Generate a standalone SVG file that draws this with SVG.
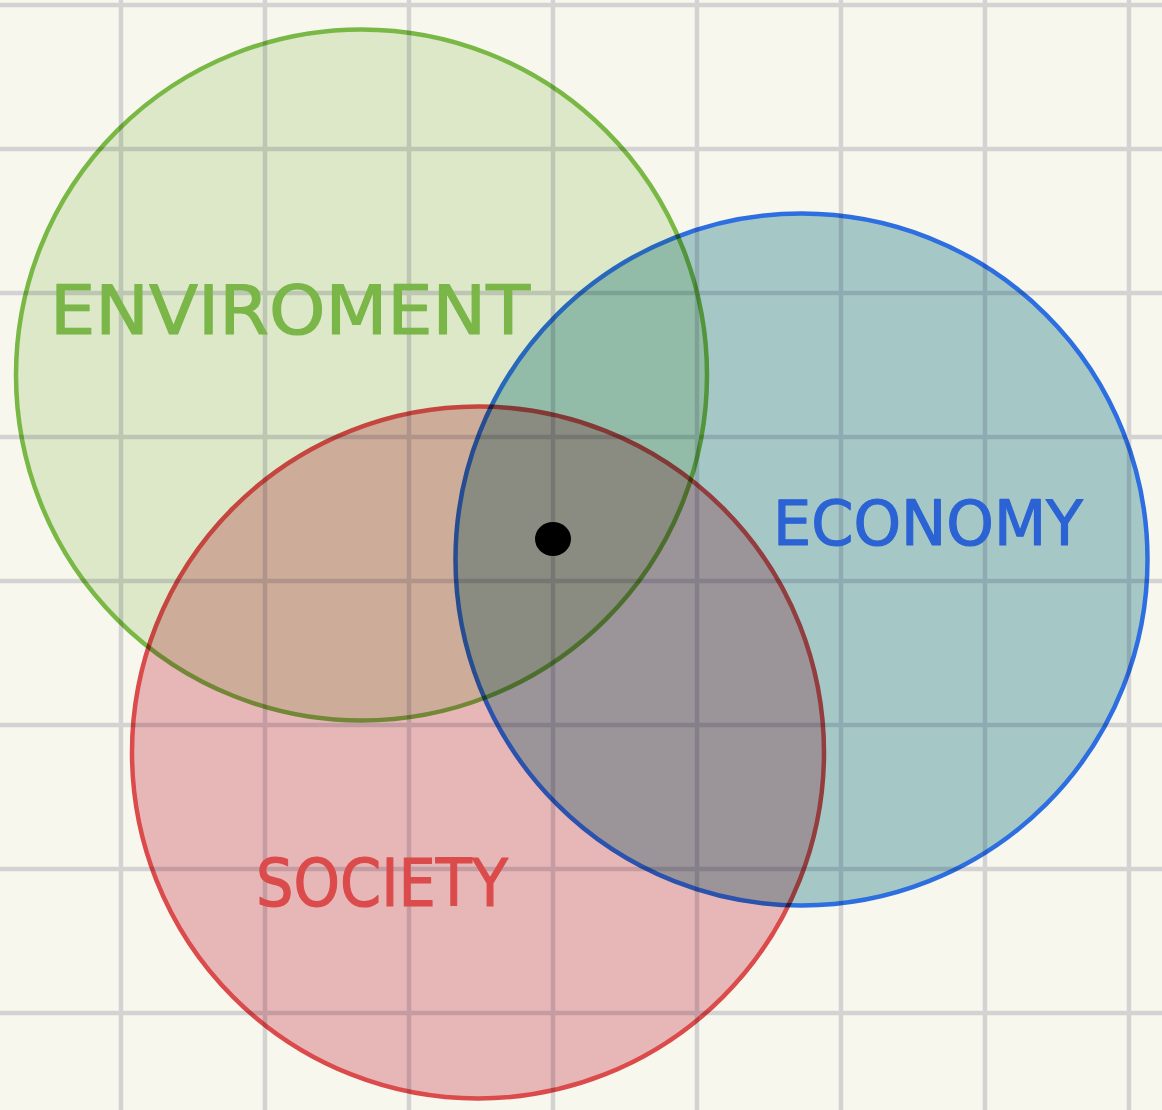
<svg xmlns="http://www.w3.org/2000/svg" width="1162" height="1110" viewBox="0 0 1162 1110">
<style>
.grid line{stroke:#d3d3d3;stroke-width:4.5}
.ring{mix-blend-mode:multiply;stroke-width:4.5}
.lbl{font-family:"DejaVu Sans","Liberation Sans",sans-serif;stroke-width:1.2;stroke-linejoin:round}
</style>
<rect width="1162" height="1110" fill="#f7f7ee"/>
<g class="grid">
<line x1="121" y1="0" x2="121" y2="1110"/>
<line x1="265" y1="0" x2="265" y2="1110"/>
<line x1="409" y1="0" x2="409" y2="1110"/>
<line x1="553" y1="0" x2="553" y2="1110"/>
<line x1="697" y1="0" x2="697" y2="1110"/>
<line x1="841" y1="0" x2="841" y2="1110"/>
<line x1="985" y1="0" x2="985" y2="1110"/>
<line x1="1129" y1="0" x2="1129" y2="1110"/>
<line x1="0" y1="5" x2="1162" y2="5"/>
<line x1="0" y1="149" x2="1162" y2="149"/>
<line x1="0" y1="293" x2="1162" y2="293"/>
<line x1="0" y1="437" x2="1162" y2="437"/>
<line x1="0" y1="581" x2="1162" y2="581"/>
<line x1="0" y1="725" x2="1162" y2="725"/>
<line x1="0" y1="869" x2="1162" y2="869"/>
<line x1="0" y1="1013" x2="1162" y2="1013"/>
</g>
<g id="connectors"/>
<g id="environment">
<circle class="ring" cx="361.5" cy="375" r="345.5" fill="#e3f0d7" stroke="#7ebe4b"/>
<text class="lbl" x="50" y="334" font-size="68" textLength="480" lengthAdjust="spacingAndGlyphs" fill="#7ab648" stroke="#7ab648">ENVIROMENT</text>
</g>
<g id="economy">
<circle class="ring" cx="801.5" cy="559.5" r="346" fill="#abcfd6" stroke="#2e72f0"/>
<text class="lbl" x="773" y="545" font-size="62" textLength="310" lengthAdjust="spacingAndGlyphs" fill="#2b63d4" stroke="#2b63d4">ECONOMY</text>
</g>
<g id="society">
<circle class="ring" cx="478" cy="752.5" r="346" fill="#efbdc4" stroke="#e34d50"/>
<text class="lbl" x="256" y="906" font-size="66" textLength="252" lengthAdjust="spacingAndGlyphs" fill="#dc4b4b" stroke="#dc4b4b">SOCIETY</text>
</g>
<g id="center-dot">
<ellipse cx="553" cy="539" rx="18" ry="17" fill="#000"/>
</g>
</svg>
